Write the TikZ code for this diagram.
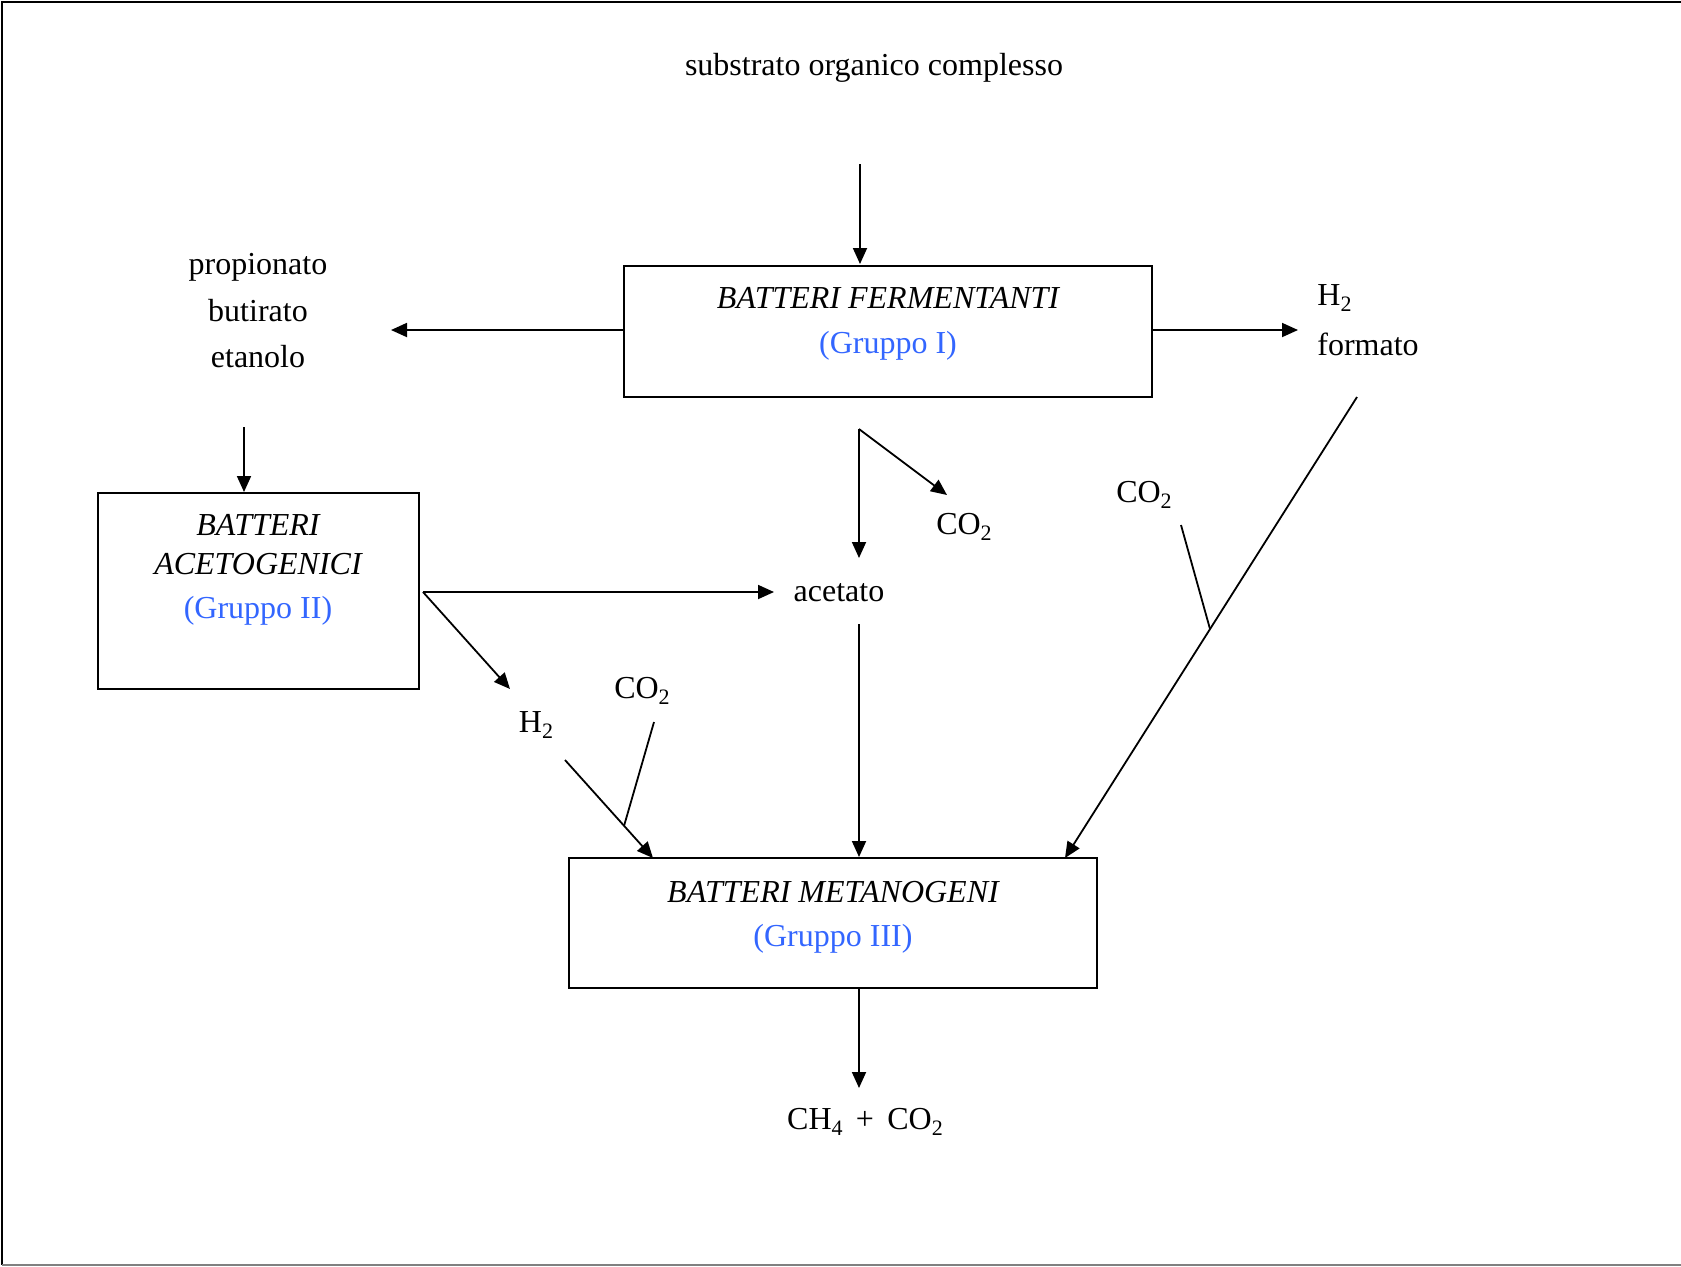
\documentclass[tikz,border=0pt]{standalone}
\usepackage{fontspec}
\setmainfont{Liberation Serif}
\usetikzlibrary{arrows.meta}
\definecolor{grpblue}{RGB}{51,102,255}
\newcommand{\sbs}[1]{\raisebox{-0.45ex}{\fontsize{11}{12}\selectfont #1}}
\tikzset{
  box/.style={draw, line width=0.9pt, inner sep=0pt},
  lbl/.style={inner sep=1pt, font=\fontsize{16}{19}\selectfont},
  ital/.style={lbl, font=\fontsize{16}{19}\selectfont\itshape},
  grp/.style={lbl, text=grpblue},
  arr/.style={line width=0.9pt, -{Triangle[length=8pt,width=7pt]}},
  ln/.style={line width=0.9pt},
}
\begin{document}
\begin{tikzpicture}[x=0.5pt,y=-0.5pt]
\useasboundingbox (0,0) rectangle (1681,1266);
% frame
\draw[line width=1.2pt] (1681,2) -- (2,2) -- (2,1265);
\draw[line width=1.2pt, gray] (2,1265) -- (1681,1265);

% texts
\node[lbl] (sub) at (874,68) {substrato organico complesso};
\node[lbl] (prop) at (258,267) {propionato};
\node[lbl] (but) at (258,311) {butirato};
\node[lbl] (eta) at (258,357) {etanolo};
\node[lbl, anchor=west] (h2a) at (1315,298) {H\sbs{2}};
\node[lbl, anchor=west] (form) at (1315,344) {formato};
\node[lbl] (co2a) at (964,527) {CO\sbs{2}};
\node[lbl] (co2b) at (1144,495) {CO\sbs{2}};
\node[lbl] (acet) at (839,593) {acetato};
\node[lbl] (h2b) at (536,725) {H\sbs{2}};
\node[lbl] (co2c) at (642,691) {CO\sbs{2}};
\node[lbl] (prod) at (865,1122) {CH\sbs{4} \,+\, CO\sbs{2}};

% boxes
\node[box, minimum width=264pt, minimum height=65.5pt] (b1) at (888,331.5) {};
\node[ital] (b1t) at (888,298) {BATTERI FERMENTANTI};
\node[grp] (b1g) at (888,346) {(Gruppo I)};

\node[box, minimum width=160.5pt, minimum height=98pt] (b2) at (258.5,591) {};
\node[ital] (b2t1) at (258,525) {BATTERI};
\node[ital] (b2t2) at (258,564) {ACETOGENICI};
\node[grp] (b2g) at (258,611) {(Gruppo II)};

\node[box, minimum width=264pt, minimum height=65pt] (b3) at (833,923) {};
\node[ital] (b3t) at (833,892) {BATTERI METANOGENI};
\node[grp] (b3g) at (833,939) {(Gruppo III)};

% coordinates
\coordinate (c1) at (860,164);
\coordinate (c1e) at (860,264);
\coordinate (c2) at (624,330);
\coordinate (c2e) at (391,330);
\coordinate (c3) at (1152,330);
\coordinate (c3e) at (1298,330);
\coordinate (c4) at (244,427);
\coordinate (c4e) at (244,492);
\coordinate (c5) at (859,429);
\coordinate (c5e) at (859,558);
\coordinate (c6e) at (947,495);
\coordinate (c7) at (423,592);
\coordinate (c7e) at (774,592);
\coordinate (c8e) at (510,689);
\coordinate (c9) at (565,760);
\coordinate (c9e) at (653,858);
\coordinate (c10) at (654,722);
\coordinate (c10e) at (624,826);
\coordinate (c11) at (859,624);
\coordinate (c11e) at (859,857);
\coordinate (c12) at (1357,397);
\coordinate (c12e) at (1065,858);
\coordinate (c13) at (1181,525);
\coordinate (c13e) at (1210,629);
\coordinate (c14) at (859,988);
\coordinate (c14e) at (859,1088);

% connectors
\draw[arr] (c1) -- (c1e);
\draw[arr] (c2) -- (c2e);
\draw[arr] (c3) -- (c3e);
\draw[arr] (c4) -- (c4e);
\draw[arr] (c5) -- (c5e);
\draw[arr] (c5) -- (c6e);
\draw[arr] (c7) -- (c7e);
\draw[arr] (c7) -- (c8e);
\draw[arr] (c9) -- (c9e);
\draw[ln] (c10) -- (c10e);
\draw[arr] (c11) -- (c11e);
\draw[arr] (c12) -- (c12e);
\draw[ln] (c13) -- (c13e);
\draw[arr] (c14) -- (c14e);
\end{tikzpicture}
\end{document}
